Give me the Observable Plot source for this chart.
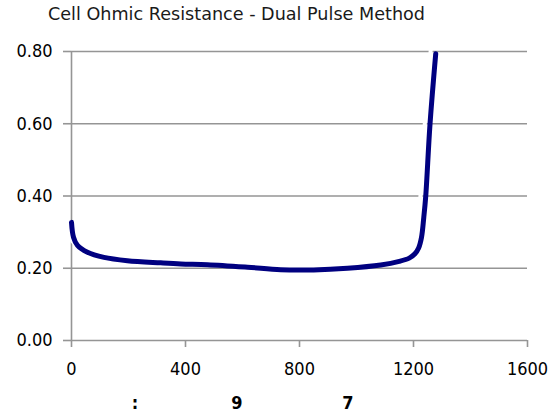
<!DOCTYPE html>
<html>
<head>
<meta charset="utf-8">
<script src="https://cdn.jsdelivr.net/npm/d3@7"></script>
<script src="https://cdn.jsdelivr.net/npm/@observablehq/plot@0.6"></script>
<style>
  body { margin: 0; background: #fff; }
  #wrap { position: relative; width: 551px; height: 416px; overflow: hidden; font-family: "DejaVu Sans Condensed", "DejaVu Sans", sans-serif; }
  #title { position: absolute; left: 48px; top: 4px; font-family: "DejaVu Sans", sans-serif; font-size: 17.6px; color: #1a1a1a; white-space: nowrap; z-index: 2; }
  .cap { position: absolute; top: 392px; font-size: 18px; font-weight: bold; color: #000; transform: translateX(-50%); }
  svg { position: absolute; left: 0; top: 0; }
</style>
</head>
<body>
<div id="wrap">
  <div id="title"></div>
</div>
<script>
const title = "Cell Ohmic Resistance - Dual Pulse Method";
const xValues = [0, 7, 21, 56, 114, 196, 313, 384, 477, 618, 734, 850, 968, 1085, 1150, 1185, 1205, 1218, 1228, 1236, 1243, 1258, 1278];
const yValues = [0.327, 0.286, 0.263, 0.244, 0.230, 0.221, 0.215, 0.212, 0.210, 0.203, 0.196, 0.1955, 0.200, 0.209, 0.219, 0.228, 0.240, 0.256, 0.285, 0.340, 0.40, 0.60, 0.794];
const xTicks = [0, 400, 800, 1200, 1600];
const yTicks = [0, 0.2, 0.4, 0.6, 0.8];
const captionParts = [":", "9", "7"];
const captionX = [135, 237, 348];

document.getElementById("title").textContent = title;
const data = xValues.map((x, i) => ({x, y: yValues[i]}));

const chart = Plot.plot({
  width: 551,
  height: 416,
  marginTop: 51,
  marginBottom: 76,
  marginLeft: 71,
  marginRight: 24,
  style: {fontFamily: '"DejaVu Sans Condensed", "DejaVu Sans", sans-serif', fontSize: "18px", color: "#000", background: "transparent"},
  x: {domain: [0, 1600], ticks: xTicks, label: null},
  y: {domain: [0, 0.8], ticks: yTicks, label: null},
  marks: [
    Plot.ruleY(yTicks, {stroke: "#959595", strokeWidth: 1.6, strokeOpacity: 1}),
    Plot.ruleX([0], {y1: 0, y2: 0.8, stroke: "#959595", strokeWidth: 1.6}),
    Plot.axisX({ticks: xTicks, label: null, tickSize: 7, tickPadding: 15, tickFormat: d => String(d), stroke: "#959595", strokeWidth: 1.6, fill: "#000"}),
    Plot.axisY({ticks: yTicks, label: null, tickSize: 8, tickPadding: 11, tickFormat: d => d.toFixed(2), stroke: "#959595", strokeWidth: 1.6, fill: "#000"}),
    Plot.line(data, {x: "x", y: "y", stroke: "#fff", strokeWidth: 4, dx: -5, dy: -4, curve: "catmull-rom"}),
    Plot.line(data, {x: "x", y: "y", stroke: "#000080", strokeWidth: 5, curve: "catmull-rom"})
  ]
});
const wrap = document.getElementById("wrap");
wrap.appendChild(chart);
captionParts.forEach((t, i) => {
  const s = document.createElement("div");
  s.className = "cap";
  s.style.left = captionX[i] + "px";
  s.textContent = t;
  wrap.appendChild(s);
});
</script>
</body>
</html>
